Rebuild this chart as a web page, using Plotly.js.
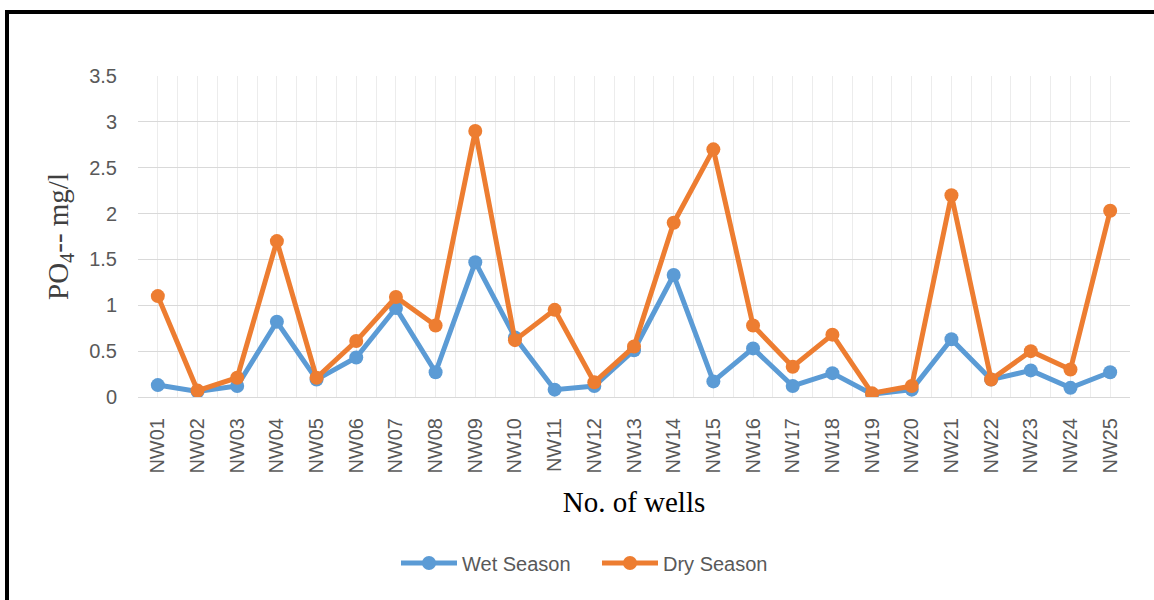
<!DOCTYPE html>
<html>
<head>
<meta charset="utf-8">
<script src="https://cdn.plot.ly/plotly-3.0.1.min.js"></script>
<style>
  html, body { margin: 0; padding: 0; background: #fff; }
  #wrap { position: relative; width: 1154px; height: 600px; overflow: hidden; }
  #chart { position: absolute; left: 0; top: 0; width: 1154px; height: 600px; }
  .bt { position: absolute; left: 5px; top: 10px; width: 1149px; height: 4px; background: #000; }
  .bl { position: absolute; left: 5px; top: 10px; width: 4px; height: 590px; background: #000; }
</style>
</head>
<body>
<div id="wrap">
  <div id="chart"></div>
  <div class="bt"></div>
  <div class="bl"></div>
</div>
<script>
const wells = ["NW01","NW02","NW03","NW04","NW05","NW06","NW07","NW08","NW09","NW10",
               "NW11","NW12","NW13","NW14","NW15","NW16","NW17","NW18","NW19","NW20",
               "NW21","NW22","NW23","NW24","NW25"];
const wetSeason = [0.13,0.06,0.12,0.82,0.19,0.43,0.97,0.27,1.47,0.65,
                   0.08,0.12,0.51,1.33,0.17,0.53,0.12,0.26,0.03,0.08,
                   0.63,0.19,0.29,0.10,0.27];
const drySeason = [1.10,0.07,0.21,1.70,0.21,0.61,1.09,0.78,2.90,0.62,
                   0.95,0.16,0.55,1.90,2.70,0.78,0.33,0.68,0.04,0.12,
                   2.20,0.19,0.50,0.30,2.03];
const yTicks = [0,0.5,1,1.5,2,2.5,3,3.5];

const xPos = wells.map((w, i) => i + 1);

const blue = "#5B9BD5", orange = "#ED7D31";

const traces = [
  { x: xPos, y: wetSeason, name: "Wet Season", type: "scatter", mode: "lines+markers",
    line: { color: blue, width: 5 }, marker: { color: blue, size: 14 } },
  { x: xPos, y: drySeason, name: "Dry Season", type: "scatter", mode: "lines+markers",
    line: { color: orange, width: 5 }, marker: { color: orange, size: 14 } }
];

const layout = {
  width: 1154, height: 600,
  margin: { l: 138, r: 24, t: 76, b: 203 },
  paper_bgcolor: "#fff", plot_bgcolor: "#fff",
  showlegend: true,
  font: { family: "Liberation Sans, Arial, sans-serif", color: "#595959" },
  xaxis: {
    range: [0.5, 25.5],
    tickmode: "array", tickvals: xPos, ticktext: wells,
    tickangle: -90, tickfont: { size: 20, color: "#595959" },
    ticks: "", ticklabelstandoff: 12,
    showgrid: true, gridcolor: "#ececec", gridwidth: 1,
    minor: { tick0: 0.5, dtick: 1, showgrid: true, gridcolor: "#ececec", gridwidth: 1, ticks: "" },
    showline: true, linecolor: "#d9d9d9", linewidth: 1,
    zeroline: false, fixedrange: true,
    title: { text: "No. of wells", font: { family: "Liberation Serif, Times New Roman, serif", size: 29, color: "#000" }, standoff: 19 },
    automargin: false
  },
  yaxis: {
    range: [0, 3.5],
    tickmode: "array", tickvals: yTicks,
    tickfont: { size: 20, color: "#595959" },
    ticks: "", ticklabelstandoff: 20,
    showgrid: true, gridcolor: "#d9d9d9", gridwidth: 1,
    zeroline: false, showline: false, fixedrange: true,
    title: { text: "PO<sub>4</sub>-- mg/l", font: { family: "Liberation Serif, Times New Roman, serif", size: 29, color: "#404040" }, standoff: 12 },
    automargin: false
  },
  legend: {
    orientation: "h", x: 0.4627, xanchor: "center", y: -0.517, yanchor: "middle",
    font: { size: 20, color: "#595959" }, itemwidth: 56, entrywidth: 130,
    bgcolor: "rgba(0,0,0,0)"
  }
};

Plotly.newPlot("chart", traces, layout, { displayModeBar: false, staticPlot: true });
</script>
</body>
</html>
